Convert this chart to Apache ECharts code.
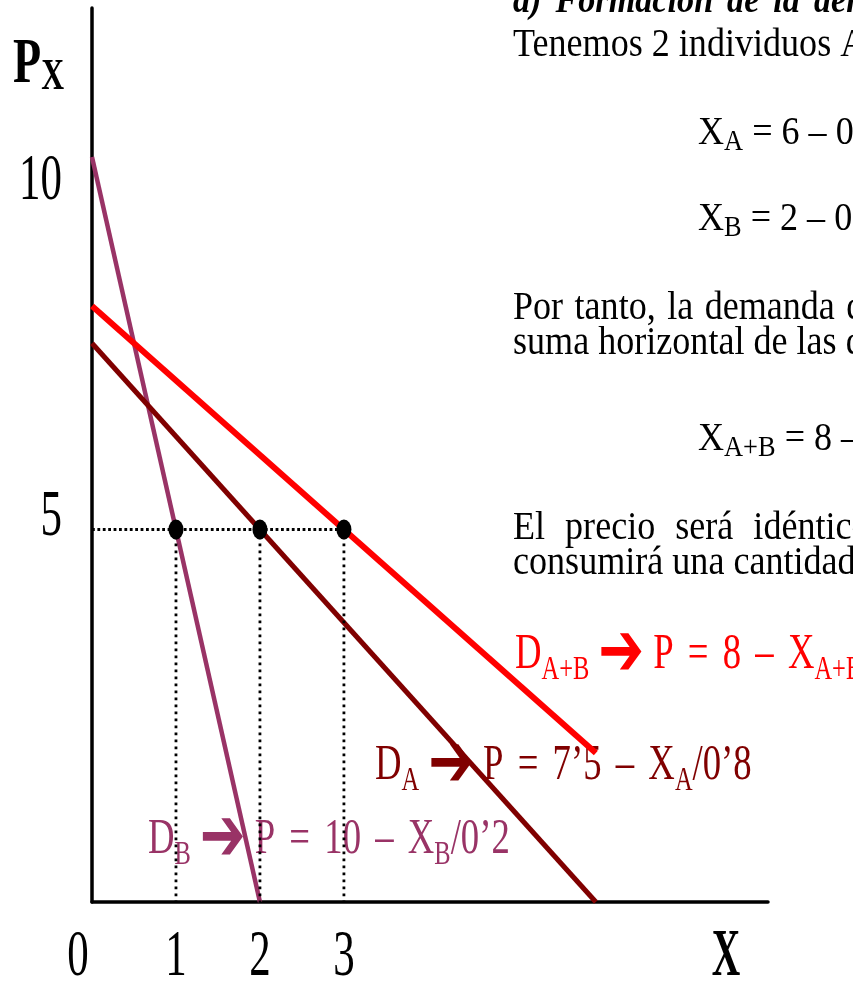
<!DOCTYPE html>
<html>
<head>
<meta charset="utf-8">
<script src="https://cdn.jsdelivr.net/npm/echarts@6/dist/echarts.min.js"></script>
<style>
  html, body { margin: 0; padding: 0; background: #fff; }
  #chart { width: 853px; height: 981px; }
</style>
</head>
<body>
<div id="chart"></div>
<script>
// Demand curves as (X, P) end points
const demandB = [[0, 10], [2, 0]];      // P = 10 – X_B/0'2
const demandA = [[0, 7.5], [6, 0]];     // P = 7'5 – X_A/0'8
const demandAB = [[0, 8], [6, 2]];      // P = 8 – X_A+B
const marketPrice = 5;
const quantitiesAtPrice = [1, 2, 3];    // X_B, X_A, X_A+B at P = 5
const xTickLabels = [0, 1, 2, 3];
const yTickLabels = [5, 10];

const SERIF = "'Liberation Serif', 'Times New Roman', serif";
const COLOR_B = '#993366';
const COLOR_A = '#800000';
const COLOR_AB = '#ff0000';

const chart = echarts.init(document.getElementById('chart'), null, { renderer: 'canvas' });

const dottedH = { color: '#000', width: 2.8, type: [2.8, 2.6], cap: 'butt' };
const dottedV = { color: '#000', width: 2.8, type: [2.8, 4.2], cap: 'butt' };

const series = [
  { name: 'D_B', type: 'line', data: demandB, symbol: 'none', z: 3,
    lineStyle: { color: COLOR_B, width: 4.5 } },
  { name: 'D_A', type: 'line', data: demandA, symbol: 'none', z: 4,
    lineStyle: { color: COLOR_A, width: 5 } },
  { name: 'D_A+B', type: 'line', data: demandAB, symbol: 'none', z: 5,
    lineStyle: { color: COLOR_AB, width: 6 } },
  { name: 'precio', type: 'line', symbol: 'none', z: 6,
    data: [[0, marketPrice], [Math.max(...quantitiesAtPrice), marketPrice]],
    lineStyle: dottedH }
].concat(quantitiesAtPrice.map(q => ({
  type: 'line', symbol: 'none', z: 6,
  data: [[q, marketPrice], [q, 0]],
  lineStyle: dottedV
}))).concat([{
  type: 'scatter', z: 7,
  data: quantitiesAtPrice.map(q => [q, marketPrice]),
  symbol: 'circle', symbolSize: [15, 20],
  itemStyle: { color: '#000', opacity: 1 }
}]);

chart.setOption({
  animation: false,
  backgroundColor: '#fff',
  grid: { left: 92, top: 8, right: 85, bottom: 79 },
  xAxis: {
    type: 'value', min: 0, max: 8.05,
    axisLine: { show: true, lineStyle: { color: '#000', width: 3.5 } },
    axisTick: { show: false }, axisLabel: { show: false }, splitLine: { show: false }
  },
  yAxis: {
    type: 'value', min: 0, max: 12,
    axisLine: { show: true, lineStyle: { color: '#000', width: 3.5 } },
    axisTick: { show: false }, axisLabel: { show: false }, splitLine: { show: false }
  },
  series: series
});

// Text helper: condensed serif text positioned by its vertical centre
function text(x, y, str, o) {
  return {
    type: 'text', x: x, y: y, scaleX: o.sx || 1, z: o.z || 1, silent: true,
    style: {
      text: str,
      fill: o.color || '#000',
      fontFamily: SERIF,
      fontSize: o.size,
      fontWeight: o.weight || 'normal',
      fontStyle: o.style || 'normal',
      align: o.align || 'left',
      verticalAlign: 'middle',
      rich: o.rich || {}
    }
  };
}

function subStyle(size, drop, color, weight) {
  return { fontFamily: SERIF, fontSize: size, padding: [drop, 0, 0, 0], fill: color, fontWeight: weight || 'normal' };
}
function arrowStyle(size, color) {
  return { fontFamily: "'DejaVu Sans', sans-serif", fontSize: size, fill: color, fontWeight: 'bold' };
}
function gapStyle(size) {
  return { fontFamily: SERIF, fontSize: size };
}

const g = [];

// Axis tick labels placed through the chart's own scales
xTickLabels.forEach(v => {
  const px = chart.convertToPixel({ gridIndex: 0 }, [v, 0]);
  g.push(text(px[0] + (v === 0 ? -14 : 0), 958, String(v), { size: 66, sx: 0.65, align: 'center' }));
});
const yLabelShift = { 5: -12, 10: 25 };
yTickLabels.forEach(v => {
  const px = chart.convertToPixel({ gridIndex: 0 }, [0, v]);
  g.push(text(62, px[1] + (yLabelShift[v] || 0), String(v), { size: 66, sx: 0.65, align: 'right' }));
});

// Axis titles
g.push(text(13, 65, 'P{s|X}', { size: 64, sx: 0.72, weight: 'bold',
  rich: { s: subStyle(44, 26, '#000', 'bold') } }));
g.push(text(726, 957, 'X', { size: 68, sx: 0.58, weight: 'bold', align: 'center' }));

// Curve equations
const eqSize = 51, eqSub = 34, eqSx = 0.72;
function eqRich(color) {
  return { s: subStyle(eqSub, 30, color), a: arrowStyle(76, color), w: gapStyle(79), n: gapStyle(50) };
}
g.push(text(515, 672 - 17, 'D{s|A+B}{n| }{a|➔}{n| }P{w| }={w| }8{w| }–{w| }X{s|A+B}',
  { size: eqSize, sx: eqSx, color: COLOR_AB, rich: eqRich(COLOR_AB) }));
g.push(text(375, 783 - 17, 'D{s|A}{n| }{a|➔}{n| }P{w| }={w| }7’5{w| }–{w| }X{s|A}/0’8',
  { size: eqSize, sx: eqSx, color: COLOR_A, rich: eqRich(COLOR_A) }));
g.push(text(148, 857 - 17, 'D{s|B}{n| }{a|➔}{n| }P{w| }={w| }10{w| }–{w| }X{s|B}/0’2',
  { size: eqSize, sx: eqSx, color: COLOR_B, rich: eqRich(COLOR_B) }));

// Explanatory text on the right
const body = { size: 41, sx: 0.88 };
const bodyRich = { s: subStyle(30, 18, '#000'), w: gapStyle(91), v: gapStyle(52) };
g.push(text(513, 15 - 13, 'a){t| }Formación{t| }de{t| }la{t| }demanda{t| }de{t| }mercado',
  { size: 38, sx: 0.9, weight: 'bold', style: 'italic', rich: { t: gapStyle(62) } }));
g.push(text(513, 59 - 14, 'Tenemos 2 individuos A y B con las siguientes funciones de demanda:', body));
g.push(text(698, 147 - 14, 'X{s|A} = 6 – 0’8P{s|X}', Object.assign({ rich: bodyRich }, body)));
g.push(text(698, 233 - 14, 'X{s|B} = 2 – 0’2P{s|X}', Object.assign({ rich: bodyRich }, body)));
g.push(text(513, 322 - 14, 'Por{v| }tanto,{v| }la{v| }demanda{v| }de{v| }mercado{v| }será{v| }la', Object.assign({ rich: bodyRich }, body)));
g.push(text(513, 357 - 14, 'suma horizontal de las demandas individuales:', body));
g.push(text(698, 453 - 14, 'X{s|A+B} = 8 – P{s|X}', Object.assign({ rich: bodyRich }, body)));
g.push(text(513, 542 - 14, 'El{w| }precio{w| }será{w| }idéntico{w| }para{w| }ambos{w| }individuos,', Object.assign({ rich: bodyRich }, body)));
g.push(text(513, 577 - 14, 'consumirá una cantidad diferente:', body));

chart.setOption({ graphic: g });
</script>
</body>
</html>
